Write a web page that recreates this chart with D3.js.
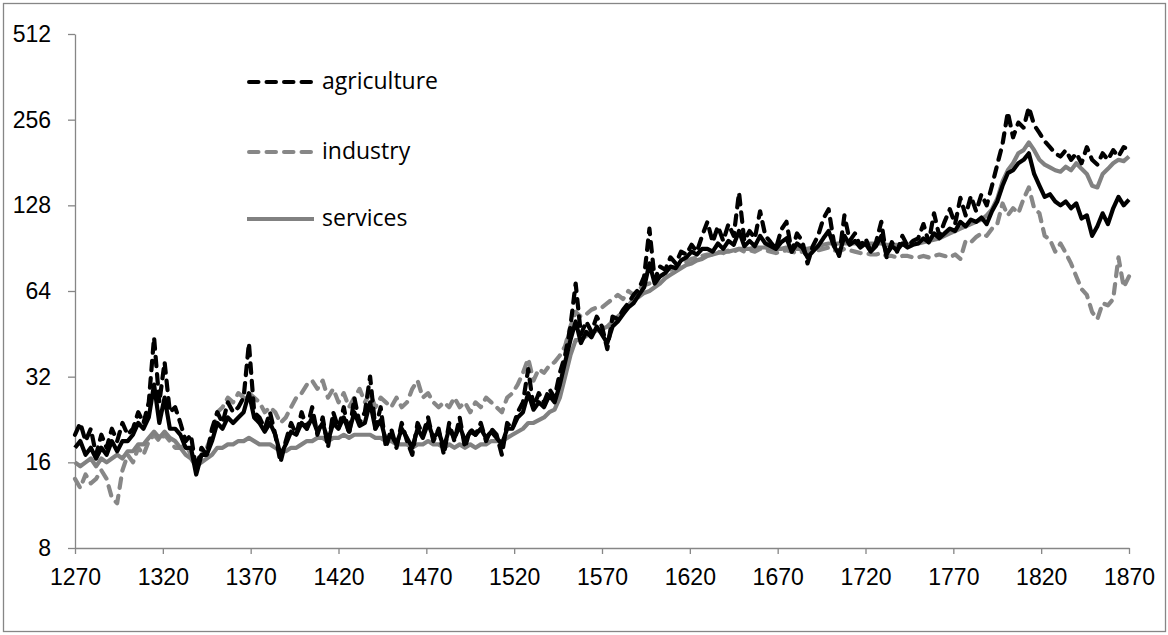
<!DOCTYPE html>
<html>
<head>
<meta charset="utf-8">
<script src="https://cdn.jsdelivr.net/npm/d3@7"></script>
<style>
  body { margin: 0; background: #fff; }
  svg { display: block; font-family: "Open Sans", sans-serif; }
  .axis path, .axis line { stroke: #868686; stroke-width: 1.3px; }
  .axis text { font-size: 23px; fill: #000; }
</style>
</head>
<body>
<svg id="chart" width="1168" height="635"></svg>
<script>
// years, every 3 years
const years = d3.range(1270, 1871, 3);

const agriculture = [
  20, 22, 19, 21, 17, 20, 18, 21, 19, 22, 20, 21, 24, 22, 26, 44, 26, 36, 24, 25,
  22, 19, 20, 15, 18, 17, 21, 24, 22, 26, 24, 25, 27, 42, 24, 23, 21, 24, 20, 16,
  19, 22, 20, 24, 21, 25, 20, 23, 18, 24, 21, 25, 20, 27, 22, 24, 32, 21, 25, 18,
  21, 18, 22, 19, 17, 22, 20, 23, 19, 21, 17, 22, 19, 23, 18, 21, 20, 22, 19, 21,
  20, 17, 22, 21, 24, 26, 34, 25, 28, 26, 29, 27, 33, 38, 48, 68, 45, 50, 46, 52,
  48, 40, 52, 51, 55, 58, 62, 65, 72, 106, 70, 78, 76, 84, 80, 88, 86, 93, 88, 100,
  112, 95, 108, 96, 110, 100, 142, 96, 104, 98, 122, 100, 95, 90, 105, 112, 88, 102, 96, 80,
  92, 100, 115, 124, 95, 85, 118, 96, 102, 92, 98, 88, 95, 112, 84, 95, 88, 100, 92, 96,
  98, 110, 95, 120, 100, 112, 124, 110, 136, 118, 138, 122, 140, 128, 150, 178, 210, 272, 222, 250,
  240, 283, 245, 230, 215, 205, 195, 190, 200, 185, 195, 180, 205, 185, 178, 195, 185, 200, 190, 205, 200
];

const industry = [
  14, 13, 14.5, 13.5, 14, 15, 14, 12, 11.5, 15, 17, 16, 18, 17, 19, 20, 19, 20, 19, 18,
  18, 18.5, 17, 16, 17, 18, 20, 24, 25, 27, 26, 28, 27, 28, 27, 26, 24, 25, 24, 22,
  23, 25, 27, 28, 30, 31, 29, 31, 27, 29, 26, 28, 25, 27, 29, 26, 28, 25, 27, 26,
  25, 27, 25, 26, 29, 31, 27, 28, 26, 25, 26, 25, 27, 25, 26, 24, 26, 25, 27, 26,
  25, 24, 27, 28, 30, 33, 37, 31, 34, 33, 35, 36, 38, 41, 48, 54, 52, 53, 55, 56,
  56, 58, 60, 62, 60, 64, 62, 65, 67, 68, 70, 72, 74, 76, 78, 80, 81, 83, 84, 85,
  86, 86, 88, 87, 89, 88, 90, 88, 89, 88, 90, 89, 88, 87, 88, 89, 88, 87, 88, 87,
  88, 89, 90, 91, 89, 88, 90, 89, 88, 87, 87, 86, 86, 87, 85, 85, 84, 85, 85, 84,
  84, 85, 84, 85, 86, 85, 84, 86, 83, 96, 95, 99, 102, 100, 106, 110, 130, 118, 125, 120,
  135, 148, 125, 120, 100, 97, 88, 94, 87, 80, 72, 65, 62, 54, 51, 58, 57, 60, 84, 66, 72
];

const services = [
  16, 15.5, 16, 16.5, 15.5, 16.5, 16, 16.5, 17, 16.5, 17.5, 17.5, 18.5, 18.5, 19.5, 20.5, 19.5, 20.5, 19.5, 19,
  18, 17, 16.5, 15.5, 16, 16.5, 17, 18, 18, 18.5, 18.5, 19, 19, 19.5, 19, 18.5, 18.5, 18.5, 18, 17.5,
  17.5, 18, 18, 18.5, 19, 19, 19.5, 19.5, 19, 19.5, 19.5, 20, 19.5, 20, 20, 20, 20, 19.5, 19.5, 19,
  19, 18.5, 18.5, 18.5, 18, 18.5, 18.5, 19, 18.5, 18.5, 18, 18.5, 18, 18.5, 18, 18.5, 18, 18.5, 18.5, 19,
  19, 19, 19.5, 20, 20.5, 21, 22, 22, 22.5, 23, 24, 24.5, 27, 32, 38, 43, 43, 44.5, 45.5, 46.5,
  47, 48, 50, 52, 54, 57, 60, 61, 63, 64, 66, 68, 71, 73, 75, 77, 79, 80, 82, 83,
  85, 86, 87, 88, 88, 89, 90, 90, 90, 91, 91, 91, 90, 90, 90, 91, 91, 90, 90, 90,
  91, 92, 93, 94, 94, 94, 94, 94, 94, 94, 94, 94, 94, 94, 93, 93, 93, 93, 93, 94,
  94, 95, 96, 97, 98, 100, 102, 104, 106, 108, 110, 112, 114, 118, 124, 135, 155, 170, 180, 195,
  200, 213, 200, 185, 178, 174, 170, 168, 175, 170, 180, 172, 165, 150, 148, 165, 172, 180, 185, 183, 190
];

// black solid line, no legend entry in the original
const total = [
  18, 19, 17, 18, 16.5, 18, 17, 19, 17.5, 19, 19, 20, 22, 21, 23, 30, 22, 27, 21, 21,
  20, 18, 18, 14.5, 17, 17, 19, 22, 21, 23, 22, 23, 24, 28, 23, 22, 20.5, 22, 20, 17,
  18.5, 20.5, 20, 22, 21, 23, 20.5, 22, 19, 22, 21, 23, 20.5, 24, 21.5, 22, 26, 21, 22.5, 19,
  20, 18.5, 21, 19.5, 18, 21, 19.5, 22, 19.5, 20.5, 18, 21, 19.5, 21.5, 19, 20.5, 20, 21, 19.5, 20.5,
  19.5, 18.5, 21, 21, 23, 24, 28, 24.5, 26, 25, 27.5, 26, 30, 36, 43, 50, 42, 46, 44, 48,
  45, 42, 48, 50, 53, 56, 58, 62, 66, 80, 68, 72, 74, 78, 77, 82, 84, 88, 86, 90,
  90, 88, 94, 90, 96, 93, 104, 92, 96, 92, 100, 94, 92, 90, 95, 98, 88, 94, 91, 84,
  88, 92, 98, 104, 92, 86, 100, 93, 96, 91, 94, 88, 92, 100, 86, 92, 89, 94, 91, 93,
  94, 98, 95, 102, 98, 102, 106, 104, 112, 108, 114, 112, 116, 110, 122, 132, 150, 166, 170, 180,
  185, 195, 165, 150, 137, 140, 132, 128, 132, 125, 130, 115, 118, 100, 108, 120, 110, 125, 137, 128, 134
];

const yTicks = [8, 16, 32, 64, 128, 256, 512];
const xTicks = d3.range(1270, 1871, 50);

const series = [
  { name: "industry", values: industry, color: "#878787", dash: "9.5,8", legend: true },
  { name: "services", values: services, color: "#818181", dash: null, legend: true },
  { name: "total", values: total, color: "#000", dash: null, legend: false },
  { name: "agriculture", values: agriculture, color: "#000", dash: "9.5,8", legend: true }
];

const svg = d3.select("#chart");

// chart area border
svg.append("rect")
  .attr("x", 3.5).attr("y", 3.5)
  .attr("width", 1162).attr("height", 628)
  .attr("fill", "none").attr("stroke", "#868686").attr("stroke-width", 1.3);

const x = d3.scaleLinear().domain([1270, 1870]).range([75, 1129]);
const y = d3.scaleLog().base(2).domain([8, 512]).range([548, 34]);

svg.append("g")
  .attr("class", "axis")
  .attr("transform", "translate(75,0)")
  .call(d3.axisLeft(y).tickValues(yTicks).tickFormat(d3.format("d"))
    .tickSize(7).tickSizeOuter(0).tickPadding(17));

svg.append("g")
  .attr("class", "axis")
  .attr("transform", "translate(0,548)")
  .call(d3.axisBottom(x).tickValues(xTicks).tickFormat(d3.format("d"))
    .tickSize(6).tickSizeOuter(0).tickPadding(15));

const line = d3.line()
  .x((d, i) => x(years[i]))
  .y(d => y(d));

svg.append("g").selectAll("path")
  .data(series)
  .join("path")
  .attr("d", s => line(s.values))
  .attr("fill", "none")
  .attr("stroke", s => s.color)
  .attr("stroke-width", 4.2)
  .attr("stroke-linejoin", "round")
  .attr("stroke-linecap", s => s.dash ? "round" : "butt")
  .attr("stroke-dasharray", s => s.dash);

// legend
const legendItems = [series[3], series[0], series[1]];
const lg = svg.append("g").selectAll("g")
  .data(legendItems)
  .join("g")
  .attr("transform", (d, i) => `translate(247,${[82, 152, 219][i]})`);

lg.append("line")
  .attr("x1", s => s.dash ? 2 : 0).attr("x2", s => s.dash ? 64 : 67)
  .attr("stroke", s => s.color)
  .attr("stroke-width", 4)
  .attr("stroke-linecap", s => s.dash ? "round" : "butt")
  .attr("stroke-dasharray", s => s.dash);

lg.append("text")
  .attr("x", 75)
  .attr("y", 7)
  .attr("font-size", 23)
  .text(s => s.name);
</script>
</body>
</html>
